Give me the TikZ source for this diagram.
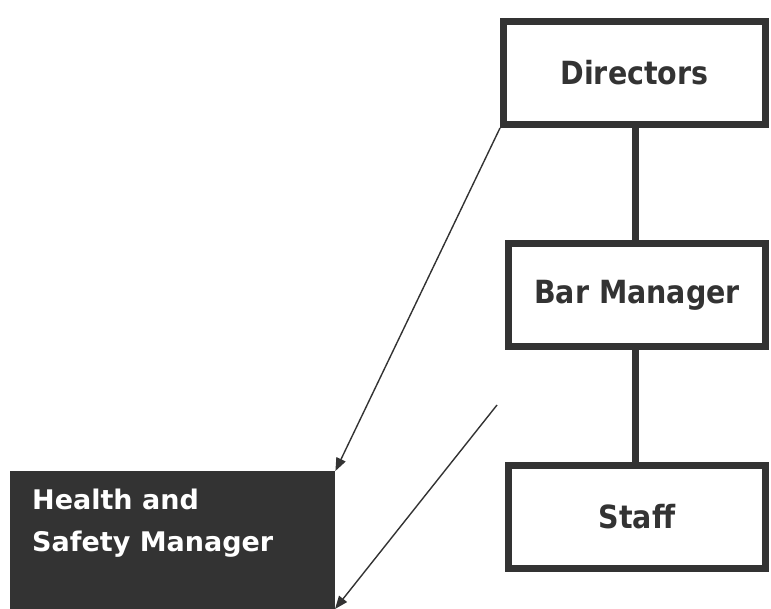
\documentclass[tikz,border=0pt]{standalone}
\usepackage{fontspec}
\setmainfont{DejaVu Sans}
\usetikzlibrary{arrows.meta}
\definecolor{ink}{HTML}{333333}
\newcommand{\tallbox}[1]{\scalebox{1}[1.12]{#1}}
\tikzset{
  orgbox/.style={draw=ink, line width=7pt, fill=white, minimum width=257pt, minimum height=103pt, inner sep=0pt, text=ink, font=\fontsize{28.5}{34}\selectfont\bfseries},
  link/.style={draw=ink, line width=7pt},
  report/.style={draw=ink, line width=1.4pt, -{Triangle[length=13pt,width=10pt]}}
}
\begin{document}
\begin{tikzpicture}[x=1pt,y=-1pt]
\useasboundingbox (0,0) rectangle (771,609);
\clip (0,0) rectangle (771,609);
\node[orgbox, minimum width=262pt] (dir) at (634.5,73) {\tallbox{Directors}};
\node[orgbox] (bar) at (637,295) {\tallbox{Bar Manager}};
\node[orgbox] (staff) at (637,517) {\tallbox{Staff}};
\draw[link] (635,127) -- (635,241);
\draw[link] (635,349) -- (635,463);
\node[fill=ink, minimum width=325pt, minimum height=145pt, inner sep=0pt, anchor=north west] (hs) at (10,471) {};
\node[anchor=north west, text=white, align=left, inner sep=0pt, font=\fontsize{27}{42}\selectfont\bfseries] (hstext) at (32,489) {Health and\\Safety Manager};
\coordinate (free) at (497,405);
\draw[report] (dir.south west) -- (hs.north east);
\draw[report] (free) -- (335,609);
\end{tikzpicture}
\end{document}
